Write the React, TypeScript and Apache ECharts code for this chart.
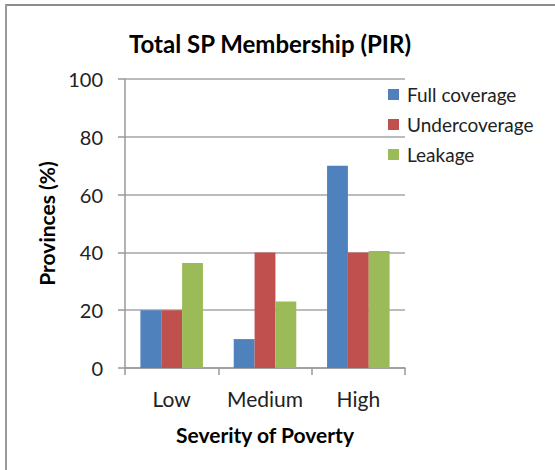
import React, { useEffect, useRef } from "react";
import * as echarts from "echarts";

const categories = ["Low", "Medium", "High"];
const fullCoverage = [20, 10, 70];
const undercoverage = [20, 40, 40];
const leakage = [36.3, 23, 40.5];
const yTicks = { min: 0, max: 100, interval: 20 };

const FONT = "Lato, 'Open Sans', sans-serif";

export default function App() {
  const ref = useRef<HTMLDivElement>(null);
  useEffect(() => {
    document.body.style.margin = "0";
    const chart = echarts.init(ref.current!, null, { renderer: "svg" });
    chart.setOption({
      animation: false,
      backgroundColor: "#ffffff",
      textStyle: { fontFamily: FONT },
      title: {
        text: "Total SP Membership (PIR)",
        left: 265,
        top: 26,
        textAlign: "center",
        textStyle: { fontSize: 24, fontWeight: "bold", color: "#000", fontFamily: FONT },
      },
      graphic: [
        { type: "line", shape: { x1: 5, y1: 5, x2: 555, y2: 5 }, style: { stroke: "#8c8c8c", lineWidth: 2 } },
        { type: "line", shape: { x1: 6, y1: 4, x2: 6, y2: 470 }, style: { stroke: "#9a9a9a", lineWidth: 2 } },
      ],
      legend: {
        orient: "vertical",
        left: 383,
        top: 80,
        itemWidth: 11,
        itemHeight: 11,
        itemGap: 11,
        icon: "rect",
        textStyle: { fontSize: 19, color: "#222", fontFamily: FONT, padding: [0, 0, 0, 3] },
        data: ["Full coverage", "Undercoverage", "Leakage"],
      },
      grid: { left: 125, right: 150, top: 79, bottom: 102, containLabel: false },
      xAxis: {
        type: "category",
        data: categories,
        name: "Severity of Poverty",
        nameLocation: "middle",
        nameGap: 56,
        nameTextStyle: { fontSize: 21, fontWeight: "bold", color: "#000", fontFamily: FONT },
        axisLine: { lineStyle: { color: "#999", width: 1.5 } },
        axisTick: { show: true, length: 7, lineStyle: { color: "#999", width: 1.5 } },
        axisLabel: { interval: 0, fontSize: 21, color: "#222", margin: 20, fontFamily: FONT },
      },
      yAxis: {
        type: "value",
        min: yTicks.min,
        max: yTicks.max,
        interval: yTicks.interval,
        name: "Provinces (%)",
        nameLocation: "middle",
        nameGap: 66,
        nameTextStyle: { fontSize: 21, fontWeight: "bold", color: "#000", fontFamily: FONT },
        axisLine: { show: true, lineStyle: { color: "#999", width: 1.5 } },
        axisTick: { show: true, length: 7, lineStyle: { color: "#999", width: 1.5 } },
        axisLabel: { fontSize: 20, color: "#222", margin: 22, fontFamily: FONT },
        splitLine: { lineStyle: { color: "#a6a6a6", width: 1.5 } },
      },
      series: [
        { name: "Full coverage", type: "bar", data: fullCoverage, barGap: "0%", barCategoryGap: "33%", itemStyle: { color: "#4F81BD" } },
        { name: "Undercoverage", type: "bar", data: undercoverage, barGap: "0%", barCategoryGap: "33%", itemStyle: { color: "#C0504D" } },
        { name: "Leakage", type: "bar", data: leakage, barGap: "0%", barCategoryGap: "33%", itemStyle: { color: "#9BBB59" } },
      ],
    });
    return () => chart.dispose();
  }, []);
  return <div ref={ref} style={{ width: 555, height: 470 }} />;
}
